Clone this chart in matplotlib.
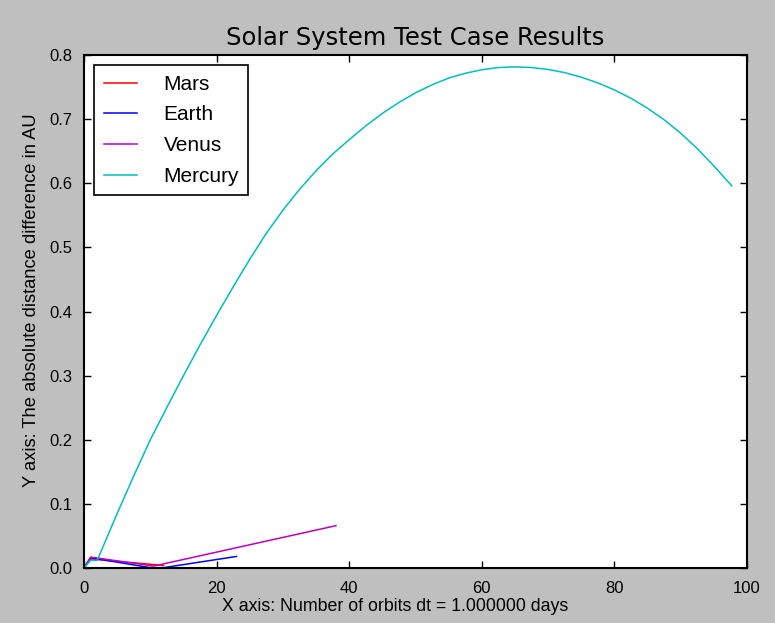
import matplotlib
matplotlib.use("Agg")
import matplotlib.pyplot as plt

# Data
mars_x = [0, 1, 12]
mars_y = [0.0, 0.014, 0.004]

earth_x = [0, 1, 10, 12, 23]
earth_y = [0.0, 0.016, 0.0005, 0.0005, 0.018]

venus_x = [0, 1, 10.5, 38]
venus_y = [0.0, 0.017, 0.003, 0.066]

mercury_x = [0, 1, 2, 5, 7.5, 10, 12.5, 15, 17.5, 20, 22.5, 25, 27.5, 30, 32.5, 35,
             37.5, 40, 42.5, 45, 47.5, 50, 52.5, 55, 57.5, 60, 62.5, 65, 67.5, 70,
             72.5, 75, 77.5, 80, 82.5, 85, 87.5, 90, 92.5, 95, 97.7]
mercury_y = [0.0, 0.012, 0.012, 0.085, 0.1435, 0.200, 0.2505, 0.300, 0.348, 0.394,
             0.4385, 0.4815, 0.522, 0.558, 0.5905, 0.6195, 0.6455, 0.668, 0.6895,
             0.709, 0.726, 0.741, 0.7535, 0.764, 0.7715, 0.777, 0.7805, 0.7815,
             0.7805, 0.7775, 0.7725, 0.7655, 0.7565, 0.7455, 0.7325, 0.717, 0.699,
             0.678, 0.654, 0.627, 0.596]

xticks = [0, 20, 40, 60, 80, 100]
yticks = [0.0, 0.1, 0.2, 0.3, 0.4, 0.5, 0.6, 0.7, 0.8]

sans = ["Liberation Sans", "DejaVu Sans"]

fig = plt.figure(figsize=(7.75, 6.23), dpi=100, facecolor="#bfbfbf")
ax = fig.add_axes([0.1084, 0.0883, 0.8555, 0.8234])
ax.set_facecolor("white")

ax.plot(mars_x, mars_y, color=(1, 0, 0), lw=1.1, label="Mars")
ax.plot(earth_x, earth_y, color=(0, 0, 1), lw=1.1, label="Earth")
ax.plot(venus_x, venus_y, color=(0.75, 0, 0.75), lw=1.1, label="Venus")
ax.plot(mercury_x, mercury_y, color=(0, 0.75, 0.75), lw=1.1, label="Mercury")

ax.set_xlim(0, 100)
ax.set_ylim(0, 0.8)
ax.set_xticks(xticks)
ax.set_yticks(yticks)
ax.set_xticklabels([str(t) for t in xticks], family=sans, fontsize=12)
ax.set_yticklabels(["%.1f" % t for t in yticks], family=sans, fontsize=12)
ax.tick_params(direction="in", length=5, width=1, top=True, right=True)
ax.tick_params(axis="x", pad=9.5)
ax.tick_params(axis="y", pad=8.5)
for s in ax.spines.values():
    s.set_linewidth(1.5)

ax.set_title("Solar System Test Case Results", fontsize=17.5, family="DejaVu Sans", pad=7)
ax.set_xlabel("X axis: Number of orbits dt = 1.000000 days", family=sans, fontsize=12.8)
ax.set_ylabel("Y axis: The absolute distance difference in AU", family=sans, fontsize=13.2)
ax.xaxis.set_label_coords(0.469, -0.058)
ax.yaxis.set_label_coords(-0.066, 0.522)

leg = ax.legend(loc="upper left", prop={"family": sans, "size": 15}, fancybox=False,
                framealpha=1, edgecolor="black", borderaxespad=0.5, handlelength=1.6,
                handletextpad=1.27, labelspacing=0.56, borderpad=0.45)
leg.get_frame().set_linewidth(1.2)

fig.savefig("out.png", dpi=100, facecolor=fig.get_facecolor())
